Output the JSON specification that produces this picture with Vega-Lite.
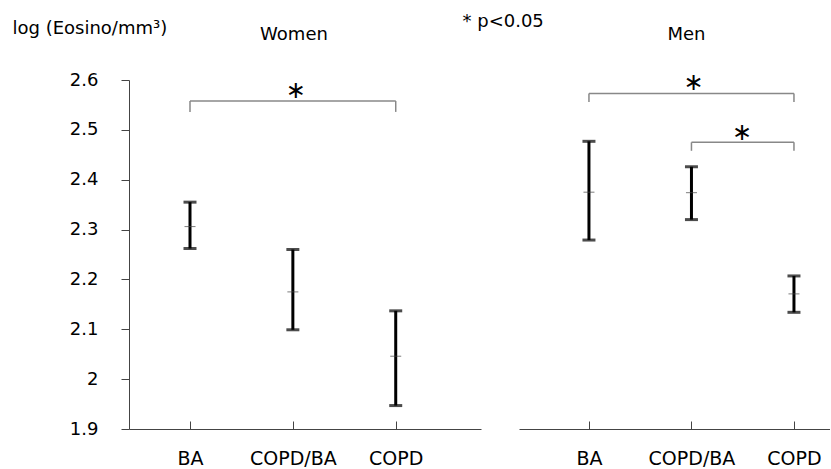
{
  "$schema": "https://vega.github.io/schema/vega-lite/v6.json",
  "padding": {"left": 12, "top": 12, "right": 0, "bottom": 0},
  "autosize": {"type": "pad"},
  "background": "white",
  "config": {
    "view": {"stroke": null},
    "font": "DejaVu Sans",
    "axis": {"labelFont": "DejaVu Sans", "labelFontSize": 18, "labelColor": "black", "grid": false, "domainColor": "#444", "tickColor": "#444", "titleFont": "DejaVu Sans", "titleFontWeight": "normal", "titleFontSize": 18, "titleColor": "black"},
    "title": {"font": "DejaVu Sans", "fontSize": 18, "fontWeight": "normal", "color": "black"}
  },
  "datasets": {
    "bars": [
      {"sex": "Women", "group": "BA", "mean": 2.306, "lo": 2.262, "hi": 2.355},
      {"sex": "Women", "group": "COPD/BA", "mean": 2.175, "lo": 2.099, "hi": 2.26},
      {"sex": "Women", "group": "COPD", "mean": 2.046, "lo": 1.947, "hi": 2.137},
      {"sex": "Men", "group": "BA", "mean": 2.375, "lo": 2.279, "hi": 2.477},
      {"sex": "Men", "group": "COPD/BA", "mean": 2.374, "lo": 2.32, "hi": 2.426},
      {"sex": "Men", "group": "COPD", "mean": 2.171, "lo": 2.134, "hi": 2.207}
    ],
    "brackets": [
      {"sex": "Women", "id": 1, "from": "BA", "to": "COPD", "y": 2.558, "yEnd": 2.536, "star": "COPD/BA", "starY": 2.577},
      {"sex": "Men", "id": 1, "from": "BA", "to": "COPD", "y": 2.573, "yEnd": 2.556, "star": "COPD/BA", "starY": 2.594},
      {"sex": "Men", "id": 2, "from": "COPD/BA", "to": "COPD", "y": 2.475, "yEnd": 2.458, "star": "COPD", "starY": 2.494}
    ]
  },
  "spacing": 38,
  "bounds": "flush",
  "hconcat": [
    {
      "width": 352,
      "height": 349,
      "title": {"text": "Women", "frame": "group", "anchor": "middle", "dx": -11, "offset": -39, "baseline": "alphabetic"},
      "layer": [
        {
          "data": {"name": "bars"},
          "transform": [{"filter": "datum.sex === 'Women'"}],
          "mark": {"type": "rule", "strokeWidth": 3, "color": "black"},
          "encoding": {
            "x": {"field": "group", "type": "nominal",
              "scale": {"type": "point", "domain": ["BA", "COPD/BA", "COPD"], "padding": 0.711, "align": 0.417},
              "axis": {"title": null, "labelAngle": 0, "tickSize": -8, "labelPadding": 28, "labelFontSize": 19}},
            "y": {"field": "lo", "type": "quantitative",
              "scale": {"domain": [1.9, 2.6], "nice": false, "zero": false},
              "axis": {"values": [1.9, 2, 2.1, 2.2, 2.3, 2.4, 2.5, 2.6], "format": ".1~f", "tickSize": 8, "labelPadding": 23,
                "title": "log (Eosino/mm³)", "titleAngle": 0, "titleX": -117, "titleY": -47, "titleAlign": "left", "titleBaseline": "alphabetic"}},
            "y2": {"field": "hi"}
          }
        },
        {
          "data": {"name": "bars"},
          "transform": [{"filter": "datum.sex === 'Women'"}],
          "mark": {"type": "tick", "orient": "horizontal", "size": 13, "thickness": 3, "color": "black"},
          "encoding": {"x": {"field": "group", "type": "nominal"}, "y": {"field": "lo", "type": "quantitative"}}
        },
        {
          "data": {"name": "bars"},
          "transform": [{"filter": "datum.sex === 'Women'"}],
          "mark": {"type": "tick", "orient": "horizontal", "size": 13, "thickness": 3, "color": "black"},
          "encoding": {"x": {"field": "group", "type": "nominal"}, "y": {"field": "hi", "type": "quantitative"}}
        },
        {
          "data": {"name": "bars"},
          "transform": [{"filter": "datum.sex === 'Women'"}],
          "mark": {"type": "tick", "orient": "horizontal", "size": 11, "thickness": 1, "color": "#444"},
          "encoding": {"x": {"field": "group", "type": "nominal"}, "y": {"field": "mean", "type": "quantitative"}}
        },
        {
          "data": {"name": "brackets"},
          "transform": [{"filter": "datum.sex === 'Women'"}],
          "mark": {"type": "rule", "strokeWidth": 1.5, "color": "#888"},
          "encoding": {"x": {"field": "from", "type": "nominal"}, "x2": {"field": "to"}, "y": {"field": "y", "type": "quantitative"}}
        },
        {
          "data": {"name": "brackets"},
          "transform": [{"filter": "datum.sex === 'Women'"}],
          "mark": {"type": "rule", "strokeWidth": 1.5, "color": "#888"},
          "encoding": {"x": {"field": "from", "type": "nominal"}, "y": {"field": "y", "type": "quantitative"}, "y2": {"field": "yEnd"}}
        },
        {
          "data": {"name": "brackets"},
          "transform": [{"filter": "datum.sex === 'Women'"}],
          "mark": {"type": "rule", "strokeWidth": 1.5, "color": "#888"},
          "encoding": {"x": {"field": "to", "type": "nominal"}, "y": {"field": "y", "type": "quantitative"}, "y2": {"field": "yEnd"}}
        },
        {
          "data": {"name": "brackets"},
          "transform": [{"filter": "datum.sex === 'Women'"}],
          "mark": {"type": "text", "text": "∗", "fontSize": 24, "baseline": "middle", "color": "black", "dx": 3},
          "encoding": {"x": {"field": "star", "type": "nominal"}, "y": {"field": "starY", "type": "quantitative"}}
        }
      ]
    },
    {
      "width": 311,
      "height": 349,
      "title": {"text": "Men", "frame": "group", "anchor": "middle", "dx": 12, "offset": -46, "baseline": "alphabetic"},
      "layer": [
        {
          "data": {"name": "bars"},
          "transform": [{"filter": "datum.sex === 'Men'"}],
          "mark": {"type": "rule", "strokeWidth": 3, "color": "black"},
          "encoding": {
            "x": {"field": "group", "type": "nominal",
              "scale": {"type": "point", "domain": ["BA", "COPD/BA", "COPD"], "padding": 0.517, "align": 0.66},
              "axis": {"title": null, "labelAngle": 0, "tickSize": -8, "labelPadding": 28, "labelFontSize": 19}},
            "y": {"field": "lo", "type": "quantitative",
              "scale": {"domain": [1.9, 2.6], "nice": false, "zero": false},
              "axis": {"labels": false, "ticks": false, "domain": false, "grid": false,
                "title": "* p<0.05", "titleAngle": 0, "titleX": -57, "titleY": -54, "titleAlign": "left", "titleBaseline": "alphabetic"}},
            "y2": {"field": "hi"}
          }
        },
        {
          "data": {"name": "bars"},
          "transform": [{"filter": "datum.sex === 'Men'"}],
          "mark": {"type": "tick", "orient": "horizontal", "size": 13, "thickness": 3, "color": "black"},
          "encoding": {"x": {"field": "group", "type": "nominal"}, "y": {"field": "lo", "type": "quantitative"}}
        },
        {
          "data": {"name": "bars"},
          "transform": [{"filter": "datum.sex === 'Men'"}],
          "mark": {"type": "tick", "orient": "horizontal", "size": 13, "thickness": 3, "color": "black"},
          "encoding": {"x": {"field": "group", "type": "nominal"}, "y": {"field": "hi", "type": "quantitative"}}
        },
        {
          "data": {"name": "bars"},
          "transform": [{"filter": "datum.sex === 'Men'"}],
          "mark": {"type": "tick", "orient": "horizontal", "size": 11, "thickness": 1, "color": "#444"},
          "encoding": {"x": {"field": "group", "type": "nominal"}, "y": {"field": "mean", "type": "quantitative"}}
        },
        {
          "data": {"name": "brackets"},
          "transform": [{"filter": "datum.sex === 'Men'"}],
          "mark": {"type": "rule", "strokeWidth": 1.5, "color": "#888"},
          "encoding": {"x": {"field": "from", "type": "nominal"}, "x2": {"field": "to"}, "y": {"field": "y", "type": "quantitative"}}
        },
        {
          "data": {"name": "brackets"},
          "transform": [{"filter": "datum.sex === 'Men'"}],
          "mark": {"type": "rule", "strokeWidth": 1.5, "color": "#888"},
          "encoding": {"x": {"field": "from", "type": "nominal"}, "y": {"field": "y", "type": "quantitative"}, "y2": {"field": "yEnd"}}
        },
        {
          "data": {"name": "brackets"},
          "transform": [{"filter": "datum.sex === 'Men'"}],
          "mark": {"type": "rule", "strokeWidth": 1.5, "color": "#888"},
          "encoding": {"x": {"field": "to", "type": "nominal"}, "y": {"field": "y", "type": "quantitative"}, "y2": {"field": "yEnd"}}
        },
        {
          "data": {"name": "brackets"},
          "transform": [{"filter": "datum.sex === 'Men' && datum.id === 1"}],
          "mark": {"type": "text", "text": "∗", "fontSize": 24, "baseline": "middle", "color": "black", "dx": 2},
          "encoding": {"x": {"field": "star", "type": "nominal"}, "y": {"field": "starY", "type": "quantitative"}}
        },
        {
          "data": {"name": "brackets"},
          "transform": [{"filter": "datum.sex === 'Men' && datum.id === 2"}],
          "mark": {"type": "text", "text": "∗", "fontSize": 24, "baseline": "middle", "color": "black", "dx": -52},
          "encoding": {"x": {"field": "star", "type": "nominal"}, "y": {"field": "starY", "type": "quantitative"}}
        }
      ]
    }
  ]
}
